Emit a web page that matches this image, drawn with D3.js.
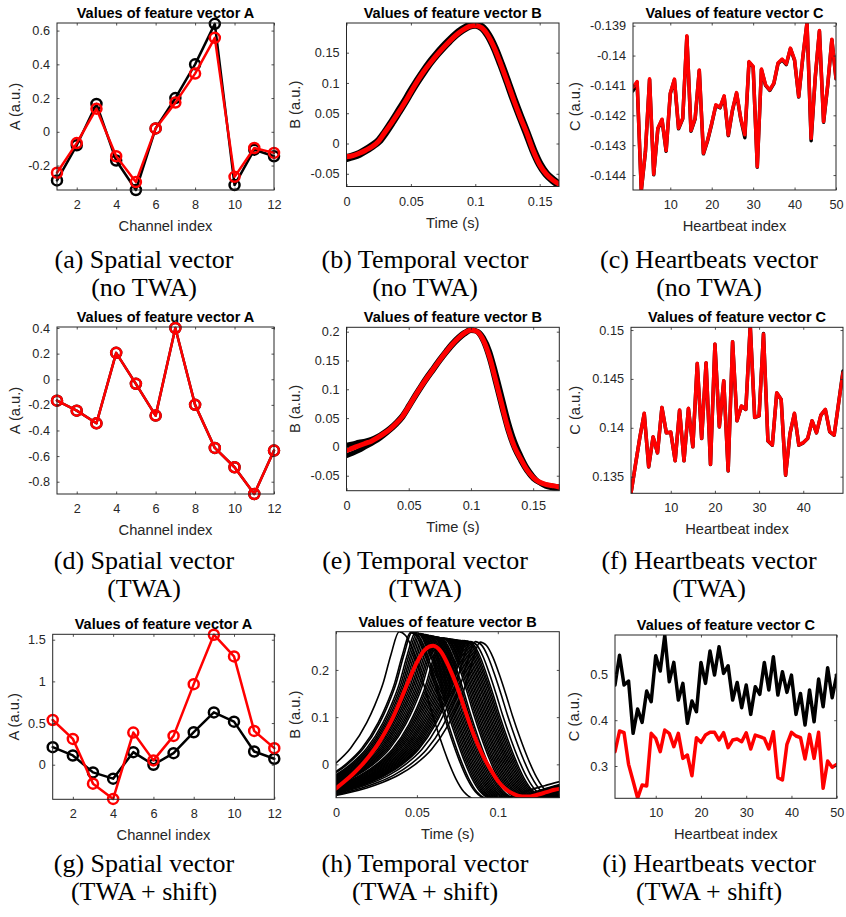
<!DOCTYPE html>
<html>
<head>
<meta charset="utf-8">
<script src="https://cdn.jsdelivr.net/npm/d3@7"></script>
<style>
body { margin: 0; background: #fff; }
</style>
</head>
<body>
<script>
// ---------- data ----------
var channels = [1, 2, 3, 4, 5, 6, 7, 8, 9, 10, 11, 12];

// (a) spatial, no TWA
var aBeats = [-0.288, -0.080, 0.165, -0.170, -0.345, 0.020, 0.200, 0.400, 0.640, -0.316, -0.106, -0.145];
var aMean  = [-0.243, -0.067, 0.137, -0.145, -0.298, 0.020, 0.173, 0.345, 0.557, -0.267, -0.096, -0.125];
// (d) spatial, TWA
var dBeats = [-0.167, -0.245, -0.344, 0.206, -0.036, -0.284, 0.400, -0.200, -0.536, -0.687, -0.896, -0.557];
var dMean  = [-0.167, -0.245, -0.344, 0.206, -0.036, -0.284, 0.400, -0.200, -0.536, -0.687, -0.896, -0.557];
// (g) spatial, TWA + shift
var gBeats = [0.211, 0.111, -0.092, -0.167, 0.151, 0.000, 0.139, 0.390, 0.628, 0.517, 0.159, 0.072];
var gMean  = [0.537, 0.310, -0.227, -0.410, 0.386, 0.052, 0.346, 0.967, 1.560, 1.300, 0.406, 0.199];

// (b) temporal, no TWA
var bTime  = [0, 0.005, 0.01, 0.015, 0.02, 0.025, 0.03, 0.035, 0.04, 0.045, 0.05, 0.055, 0.06, 0.065, 0.07, 0.075, 0.08,
              0.085, 0.09, 0.095, 0.1, 0.105, 0.11, 0.115, 0.12, 0.125, 0.13, 0.135, 0.14, 0.145, 0.15, 0.155, 0.16, 0.165];
var bMean  = [-0.022, -0.020, -0.016, -0.011, -0.005, 0.004, 0.019, 0.034, 0.050, 0.067, 0.085, 0.103, 0.119, 0.133, 0.146, 0.158, 0.169,
              0.179, 0.187, 0.193, 0.195, 0.191, 0.178, 0.157, 0.130, 0.101, 0.071, 0.043, 0.017, -0.012, -0.035, -0.050, -0.060, -0.067];
var bBeats = [-0.024, -0.021, -0.017, -0.011, -0.004, 0.004, 0.018, 0.034, 0.051, 0.068, 0.086, 0.103, 0.119, 0.134, 0.147, 0.159, 0.170,
              0.180, 0.188, 0.194, 0.196, 0.192, 0.179, 0.158, 0.131, 0.102, 0.072, 0.044, 0.017, -0.011, -0.034, -0.050, -0.060, -0.068];

// (e) temporal, TWA
var eTime  = [0, 0.005, 0.01, 0.015, 0.02, 0.025, 0.03, 0.035, 0.04, 0.045, 0.05, 0.055, 0.06, 0.065, 0.07, 0.075, 0.08, 0.085,
              0.09, 0.095, 0.1, 0.105, 0.11, 0.115, 0.12, 0.125, 0.13, 0.135, 0.14, 0.145, 0.15, 0.155, 0.16, 0.165, 0.17, 0.175];
var eMean  = [-0.006, -0.002, 0.002, 0.006, 0.010, 0.016, 0.023, 0.031, 0.041, 0.053, 0.070, 0.088, 0.105, 0.121, 0.136, 0.151, 0.165, 0.178,
              0.189, 0.198, 0.203, 0.200, 0.185, 0.156, 0.115, 0.072, 0.031, 0.000, -0.021, -0.040, -0.053, -0.061, -0.065, -0.067, -0.069, -0.070];
var eBeatsHigh = [0.003, 0.005, 0.008, 0.010, 0.013, 0.018, 0.025, 0.033, 0.043, 0.055, 0.072, 0.090, 0.107, 0.123, 0.138, 0.153, 0.167, 0.180,
              0.191, 0.199, 0.204, 0.200, 0.183, 0.152, 0.110, 0.067, 0.027, -0.003, -0.024, -0.042, -0.055, -0.062, -0.066, -0.068, -0.069, -0.070];
var eBeatsLow  = [-0.015, -0.011, -0.006, 0.000, 0.006, 0.012, 0.020, 0.029, 0.039, 0.051, 0.068, 0.086, 0.103, 0.119, 0.134, 0.149, 0.163, 0.176,
              0.187, 0.196, 0.202, 0.201, 0.190, 0.166, 0.128, 0.086, 0.044, 0.010, -0.015, -0.036, -0.051, -0.062, -0.068, -0.071, -0.073, -0.074];

// (h) temporal, TWA + shift
var hTime  = [0, 0.005, 0.01, 0.015, 0.02, 0.025, 0.03, 0.035, 0.04, 0.045, 0.05, 0.055, 0.06, 0.065, 0.07,
              0.075, 0.08, 0.085, 0.09, 0.095, 0.1, 0.105, 0.11, 0.115, 0.12, 0.125, 0.13, 0.135, 0.138];
var hMean  = [-0.051, -0.037, -0.022, -0.005, 0.015, 0.038, 0.066, 0.098, 0.137, 0.178, 0.216, 0.243, 0.251, 0.238, 0.205,
              0.163, 0.112, 0.064, 0.024, -0.008, -0.035, -0.053, -0.063, -0.068, -0.068, -0.064, -0.059, -0.054, -0.052];
// single beat shape, time relative to its peak
var hShapeRel = [-0.10, -0.09, -0.08, -0.07, -0.06, -0.05, -0.04, -0.03, -0.02, -0.015, -0.01, -0.005, 0, 0.004, 0.008,
                 0.012, 0.016, 0.02, 0.025, 0.03, 0.035, 0.04, 0.045, 0.05, 0.06, 0.07, 0.08, 0.09, 0.1, 0.11];
var hShapeVal = [-0.078, -0.072, -0.064, -0.054, -0.041, -0.024, 0.000, 0.034, 0.088, 0.125, 0.170, 0.232, 0.280, 0.272, 0.245,
                 0.205, 0.160, 0.112, 0.058, 0.010, -0.030, -0.058, -0.072, -0.078, -0.078, -0.068, -0.055, -0.045, -0.036, -0.030];
// peak time and peak height of every black beat
var hPeakTimes  = [0.039, 0.046, 0.047, 0.049, 0.050, 0.051, 0.052, 0.053, 0.054, 0.055, 0.056, 0.057, 0.058, 0.059, 0.060,
                   0.061, 0.062, 0.063, 0.065, 0.066, 0.067, 0.068, 0.069, 0.070, 0.071, 0.072, 0.073, 0.074, 0.075, 0.076,
                   0.077, 0.078, 0.079, 0.080, 0.081, 0.083, 0.086, 0.089];
var hPeakValues = [0.281, 0.279, 0.280, 0.279, 0.278, 0.277, 0.277, 0.276, 0.275, 0.275, 0.274, 0.273, 0.273, 0.272, 0.271,
                   0.270, 0.270, 0.269, 0.268, 0.268, 0.267, 0.267, 0.266, 0.266, 0.265, 0.265, 0.264, 0.264, 0.263, 0.263,
                   0.262, 0.262, 0.262, 0.261, 0.261, 0.260, 0.260, 0.259];

// (c) heartbeats, no TWA
var beats50 = d3.range(1, 51);
var beats49 = d3.range(1, 50);
var cMean = [-0.14106, -0.14087, -0.14450, -0.14320, -0.14078, -0.14397, -0.14243, -0.14213, -0.14318, -0.14126,
             -0.14079, -0.14243, -0.14210, -0.13934, -0.14251, -0.14210, -0.14048, -0.14327, -0.14283, -0.14227,
             -0.14165, -0.14173, -0.14135, -0.14266, -0.14182, -0.14124, -0.14210, -0.14265, -0.14020, -0.14036,
             -0.14372, -0.14045, -0.14098, -0.14115, -0.14092, -0.14025, -0.14012, -0.14028, -0.13975, -0.14014,
             -0.14137, -0.14003, -0.13889, -0.14277, -0.14070, -0.13916, -0.14221, -0.14098, -0.13945, -0.14076];
var cBeats = [-0.14118, -0.14090, -0.14452, -0.14322, -0.14080, -0.14399, -0.14245, -0.14215, -0.14320, -0.14128,
             -0.14081, -0.14245, -0.14212, -0.13936, -0.14253, -0.14212, -0.14050, -0.14329, -0.14285, -0.14229,
             -0.14167, -0.14175, -0.14137, -0.14268, -0.14184, -0.14126, -0.14212, -0.14275, -0.14022, -0.14038,
             -0.14374, -0.14047, -0.14100, -0.14117, -0.14094, -0.14027, -0.14014, -0.14030, -0.13977, -0.14016,
             -0.14139, -0.14005, -0.13891, -0.14285, -0.14072, -0.13918, -0.14223, -0.14100, -0.13947, -0.14078];
// (f) heartbeats, TWA
var fMean = [0.1333, 0.1362, 0.1390, 0.14148, 0.13602, 0.13909, 0.13745, 0.14209, 0.13950, 0.13957,
             0.13664, 0.14182, 0.13664, 0.14199, 0.13807, 0.14659, 0.13892, 0.14666, 0.13626, 0.14857,
             0.14011, 0.14482, 0.13561, 0.14881, 0.14073, 0.14223, 0.14189, 0.15040, 0.14107, 0.14124,
             0.14959, 0.13868, 0.13824, 0.14359, 0.14291, 0.13517, 0.13943, 0.14148, 0.13824, 0.13848,
             0.13892, 0.14073, 0.13950, 0.14131, 0.14189, 0.13960, 0.13926, 0.14250, 0.14564];
var fBeats = [0.1333, 0.1362, 0.1390, 0.14146, 0.13600, 0.13907, 0.13743, 0.14207, 0.13948, 0.13955,
             0.13662, 0.14180, 0.13662, 0.14197, 0.13805, 0.14657, 0.13890, 0.14664, 0.13624, 0.14855,
             0.14009, 0.14480, 0.13559, 0.14879, 0.14071, 0.14221, 0.14187, 0.15050, 0.14105, 0.14122,
             0.14965, 0.13866, 0.13822, 0.14357, 0.14289, 0.13515, 0.13941, 0.14146, 0.13822, 0.13846,
             0.13890, 0.14071, 0.13948, 0.14129, 0.14187, 0.13958, 0.13924, 0.14252, 0.14580];
// (i) heartbeats, TWA + shift
var iBeats = [0.4767, 0.5420, 0.4767, 0.4855, 0.3713, 0.4244, 0.3953, 0.4636, 0.4404, 0.5407,
              0.5073, 0.5850, 0.4840, 0.5262, 0.4440, 0.4804, 0.3931, 0.4418, 0.4185, 0.5262,
              0.4804, 0.5509, 0.4985, 0.5604, 0.5022, 0.5189, 0.4440, 0.4825, 0.4273, 0.4767,
              0.4127, 0.4731, 0.4564, 0.5262, 0.4658, 0.5385, 0.4549, 0.5058, 0.4607, 0.4985,
              0.4127, 0.4585, 0.3895, 0.4658, 0.3967, 0.4898, 0.4295, 0.5145, 0.4491, 0.4985];
var iMean  = [0.3313, 0.3764, 0.3727, 0.3036, 0.2673, 0.2300, 0.2585, 0.2564, 0.3713, 0.3604,
              0.3313, 0.3785, 0.3713, 0.3422, 0.3713, 0.3167, 0.3240, 0.2789, 0.3618, 0.3516,
              0.3676, 0.3735, 0.3735, 0.3567, 0.3727, 0.3400, 0.3567, 0.3589, 0.3531, 0.3727,
              0.3371, 0.3676, 0.3640, 0.3604, 0.3371, 0.3749, 0.2745, 0.2695, 0.3473, 0.3735,
              0.3655, 0.3618, 0.3153, 0.3691, 0.3167, 0.3735, 0.2513, 0.3109, 0.2971, 0.3036];

// tick labels
var channelTicks = [2, 4, 6, 8, 10, 12];
var timeTicks = [0, 0.05, 0.1, 0.15];
var beatTicks = [10, 20, 30, 40, 50];

var captions = [
  ["(a) Spatial vector", "(no TWA)"], ["(b) Temporal vector", "(no TWA)"], ["(c) Heartbeats vector", "(no TWA)"],
  ["(d) Spatial vector", "(TWA)"], ["(e) Temporal vector", "(TWA)"], ["(f) Heartbeats vector", "(TWA)"],
  ["(g) Spatial vector", "(TWA + shift)"], ["(h) Temporal vector", "(TWA + shift)"], ["(i) Heartbeats vector", "(TWA + shift)"]
];

// ---------- drawing ----------
var svg = d3.select("body").append("svg")
    .attr("width", 846)
    .attr("height", 917);

var axisColor = "#262626";
var sans = "'Liberation Sans', Arial, Helvetica, sans-serif";

function drawPanel(p) {
    var left = p.box[0], right = p.box[1], top = p.box[2], bottom = p.box[3];
    var x = d3.scaleLinear().domain(p.xDomain).range([left, right]);
    var y = d3.scaleLinear().domain(p.yDomain).range([bottom, top]);
    var g = svg.append("g");

    g.append("clipPath").attr("id", "clip-" + p.id)
        .append("rect")
        .attr("x", left).attr("y", top)
        .attr("width", right - left).attr("height", bottom - top);

    var plot = g.append("g");
    if (p.clip) plot.attr("clip-path", "url(#clip-" + p.id + ")");

    p.series.forEach(function(s) {
        var pts = d3.zip(s.x, s.y);
        var line = d3.line()
            .x(function(d) { return x(d[0]); })
            .y(function(d) { return y(d[1]); });
        if (s.smooth) line.curve(d3.curveMonotoneX);
        plot.append("path")
            .attr("d", line(pts))
            .attr("fill", "none")
            .attr("stroke", s.color)
            .attr("stroke-width", s.width)
            .attr("stroke-linejoin", "round")
            .attr("stroke-linecap", "round");
        if (s.marker) {
            plot.selectAll(null).data(pts).enter().append("circle")
                .attr("cx", function(d) { return x(d[0]); })
                .attr("cy", function(d) { return y(d[1]); })
                .attr("r", 5)
                .attr("fill", "none")
                .attr("stroke", s.color)
                .attr("stroke-width", 2.5);
        }
    });

    var fmt = function(d) { return String(d); };
    var tl = 2.5;
    var bx = g.append("g").attr("transform", "translate(0," + bottom + ")")
        .call(d3.axisBottom(x).tickValues(p.xTicks).tickFormat(fmt).tickSizeInner(-tl).tickSizeOuter(0).tickPadding(10));
    var ly = g.append("g").attr("transform", "translate(" + left + ",0)")
        .call(d3.axisLeft(y).tickValues(p.yTicks).tickFormat(fmt).tickSizeInner(-tl).tickSizeOuter(0).tickPadding(7));
    var tx = g.append("g").attr("transform", "translate(0," + top + ")")
        .call(d3.axisTop(x).tickValues(p.xTicks).tickFormat("").tickSizeInner(-tl).tickSizeOuter(0));
    var ry = g.append("g").attr("transform", "translate(" + right + ",0)")
        .call(d3.axisRight(y).tickValues(p.yTicks).tickFormat("").tickSizeInner(-tl).tickSizeOuter(0));
    [bx, ly, tx, ry].forEach(function(a) {
        a.select(".domain").remove();
        a.selectAll(".tick line").attr("stroke", axisColor).attr("stroke-width", 0.8);
        a.selectAll(".tick text")
            .attr("fill", axisColor)
            .attr("font-family", sans)
            .attr("font-size", 12.7);
    });

    g.append("rect")
        .attr("x", left).attr("y", top)
        .attr("width", right - left).attr("height", bottom - top)
        .attr("fill", "none")
        .attr("stroke", axisColor)
        .attr("stroke-width", 1);

    g.append("text")
        .attr("x", (left + right) / 2).attr("y", top - 5)
        .attr("text-anchor", "middle")
        .attr("font-family", sans).attr("font-weight", "bold").attr("font-size", 14.5)
        .attr("fill", "#000")
        .text(p.title);

    g.append("text")
        .attr("x", (left + right) / 2).attr("y", bottom + 41)
        .attr("text-anchor", "middle")
        .attr("font-family", sans).attr("font-size", 14.7)
        .attr("fill", axisColor)
        .text(p.xLabel);

    g.append("text")
        .attr("transform", "translate(" + p.yLabelX + "," + ((top + bottom) / 2) + ") rotate(-90)")
        .attr("dy", "0.35em")
        .attr("text-anchor", "middle")
        .attr("font-family", sans).attr("font-size", 14.7)
        .attr("fill", axisColor)
        .text(p.yLabel);
}

function markerPanel(id, box, yDomain, yTicks, yLabelX, beats, mean) {
    return {
        id: id, box: box, xDomain: [1, 12], yDomain: yDomain, xTicks: channelTicks, yTicks: yTicks,
        title: "Values of feature vector A", xLabel: "Channel index", yLabel: "A (a.u.)", yLabelX: yLabelX,
        clip: false,
        series: [
            {x: channels, y: beats, color: "#000", width: 2.5, marker: true},
            {x: channels, y: mean, color: "#ff0000", width: 2.5, marker: true}
        ]
    };
}

var hBeatSeries = hPeakTimes.map(function(tp, k) {
    return {
        x: hShapeRel.map(function(r) { return tp + r; }),
        y: hShapeVal.map(function(v) { return v * hPeakValues[k] / 0.28; }),
        color: "#000", width: 1.6, smooth: true
    };
});

var panels = [
    markerPanel("a", [57, 274, 23, 190], [-0.345, 0.645], [-0.2, 0, 0.2, 0.4, 0.6], 15, aBeats, aMean),
    {
        id: "b", box: [346.5, 559, 23, 186.5], xDomain: [0, 0.165], yDomain: [-0.071, 0.199],
        xTicks: timeTicks, yTicks: [-0.05, 0, 0.05, 0.1, 0.15],
        title: "Values of feature vector B", xLabel: "Time (s)", yLabel: "B (a.u.)", yLabelX: 295, clip: true,
        series: [
            {x: bTime, y: bBeats, color: "#000", width: 8, smooth: true},
            {x: bTime, y: bMean, color: "#ff0000", width: 5, smooth: true}
        ]
    },
    {
        id: "c", box: [633, 836, 23, 190], xDomain: [1, 50], yDomain: [-0.1445, -0.13891],
        xTicks: beatTicks, yTicks: [-0.144, -0.143, -0.142, -0.141, -0.14, -0.139],
        title: "Values of feature vector C", xLabel: "Heartbeat index", yLabel: "C (a.u.)", yLabelX: 575, clip: true,
        series: [
            {x: beats50, y: cBeats, color: "#000", width: 3.5},
            {x: beats50, y: cMean, color: "#ff0000", width: 3.5}
        ]
    },
    markerPanel("d", [57, 274, 327, 494], [-0.896, 0.408], [-0.8, -0.6, -0.4, -0.2, 0, 0.2, 0.4], 15, dBeats, dMean),
    {
        id: "e", box: [346.5, 559.3, 327.3, 490.7], xDomain: [0, 0.171], yDomain: [-0.076, 0.2076],
        xTicks: timeTicks, yTicks: [-0.05, 0, 0.05, 0.1, 0.15, 0.2],
        title: "Values of feature vector B", xLabel: "Time (s)", yLabel: "B (a.u.)", yLabelX: 295, clip: true,
        series: [
            {x: eTime, y: eBeatsLow, color: "#000", width: 5, smooth: true},
            {x: eTime, y: eBeatsHigh, color: "#000", width: 5, smooth: true},
            {x: eTime, y: eMean, color: "#ff0000", width: 5, smooth: true}
        ]
    },
    {
        id: "f", box: [631, 843, 327.3, 493.3], xDomain: [1, 49], yDomain: [0.1333, 0.15028],
        xTicks: [10, 20, 30, 40], yTicks: [0.135, 0.14, 0.145, 0.15],
        title: "Values of feature vector C", xLabel: "Heartbeat index", yLabel: "C (a.u.)", yLabelX: 575, clip: true,
        series: [
            {x: beats49, y: fBeats, color: "#000", width: 3.5},
            {x: beats49, y: fMean, color: "#ff0000", width: 3.5}
        ]
    },
    markerPanel("g", [52.7, 274.3, 634.3, 799.3], [-0.415, 1.565], [0, 0.5, 1, 1.5], 14, gBeats, gMean),
    {
        id: "h", box: [336, 559.3, 631.7, 797.7], xDomain: [0, 0.138], yDomain: [-0.0707, 0.281],
        xTicks: [0, 0.05, 0.1], yTicks: [0, 0.1, 0.2],
        title: "Values of feature vector B", xLabel: "Time (s)", yLabel: "B (a.u.)", yLabelX: 295, clip: true,
        series: hBeatSeries.concat([
            {x: hTime, y: hMean, color: "#ff0000", width: 4, smooth: true}
        ])
    },
    {
        id: "i", box: [615, 836.7, 635, 798.3], xDomain: [1, 50], yDomain: [0.2295, 0.586],
        xTicks: beatTicks, yTicks: [0.3, 0.4, 0.5],
        title: "Values of feature vector C", xLabel: "Heartbeat index", yLabel: "C (a.u.)", yLabelX: 574, clip: true,
        series: [
            {x: beats50, y: iBeats, color: "#000", width: 3.5},
            {x: beats50, y: iMean, color: "#ff0000", width: 3.5}
        ]
    }
];

panels.forEach(drawPanel);

// sub-figure captions
var capX = [144, 425, 709];
var capY = [268, 569, 872];
captions.forEach(function(c, k) {
    var t = svg.append("text")
        .attr("x", capX[k % 3])
        .attr("y", capY[Math.floor(k / 3)])
        .attr("text-anchor", "middle")
        .attr("font-family", "'Liberation Serif', 'Times New Roman', serif")
        .attr("font-size", 26)
        .attr("fill", "#000");
    t.append("tspan").attr("x", capX[k % 3]).text(c[0]);
    t.append("tspan").attr("x", capX[k % 3]).attr("dy", 28).text(c[1]);
});
</script>
</body>
</html>
